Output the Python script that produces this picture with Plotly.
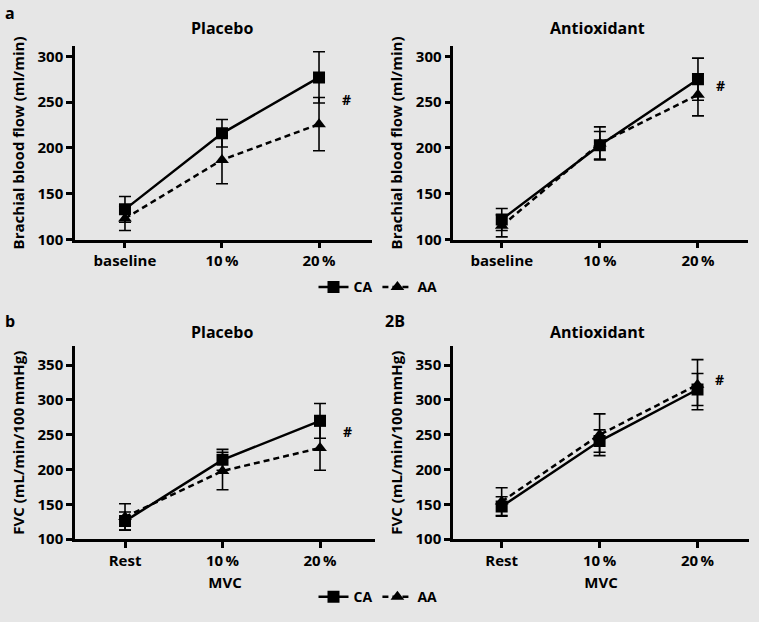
import plotly.graph_objects as go

# ---------------- data ----------------
x_idx = [0, 1, 2]
cats_top = ["baseline", "10\u2009%", "20\u2009%"]
cats_bottom = ["Rest", "10\u2009%", "20\u2009%"]

bbf_placebo_ca = [133, 216, 277]
bbf_placebo_ca_err = [14, 15, 28]
bbf_placebo_aa = [123, 187, 226]
bbf_placebo_aa_err = [13, 26, 29]

bbf_antiox_ca = [122, 203, 275]
bbf_antiox_ca_err = [12, 15, 23]
bbf_antiox_aa = [115, 205, 258]
bbf_antiox_aa_err = [12, 18, 23]

fvc_placebo_ca = [126, 214, 270]
fvc_placebo_ca_err = [13, 15, 25]
fvc_placebo_aa = [132, 198, 231]
fvc_placebo_aa_err = [19, 27, 32]

fvc_antiox_ca = [147, 241, 315]
fvc_antiox_ca_err = [14, 16, 23]
fvc_antiox_aa = [154, 250, 322]
fvc_antiox_aa_err = [20, 30, 36]

# ---------------- figure ----------------
W, H = 759, 622
FONT = "Open Sans"
BG = "#e6e6e6"
WT = "bold"

fig = go.Figure()


def add_pair(ca, ca_err, aa, aa_err, xa, ya, legend, showleg):
    fig.add_trace(go.Scatter(
        x=x_idx, y=aa, name="AA", mode="lines+markers",
        xaxis=xa, yaxis=ya, legend=legend, showlegend=showleg, legendrank=2,
        line=dict(color="black", width=2.5, dash="6px,4px"),
        marker=dict(symbol="triangle-up", size=12, color="black"),
        error_y=dict(type="data", array=aa_err, visible=True,
                     color="black", thickness=1.6, width=6),
    ))
    fig.add_trace(go.Scatter(
        x=x_idx, y=ca, name="CA", mode="lines+markers",
        xaxis=xa, yaxis=ya, legend=legend, showlegend=showleg, legendrank=1,
        line=dict(color="black", width=2.5),
        marker=dict(symbol="square", size=12, color="black"),
        error_y=dict(type="data", array=ca_err, visible=True,
                     color="black", thickness=1.6, width=6),
    ))


add_pair(bbf_placebo_ca, bbf_placebo_ca_err, bbf_placebo_aa, bbf_placebo_aa_err,
         "x", "y", "legend", True)
add_pair(bbf_antiox_ca, bbf_antiox_ca_err, bbf_antiox_aa, bbf_antiox_aa_err,
         "x2", "y2", "legend", False)
add_pair(fvc_placebo_ca, fvc_placebo_ca_err, fvc_placebo_aa, fvc_placebo_aa_err,
         "x3", "y3", "legend2", True)
add_pair(fvc_antiox_ca, fvc_antiox_ca_err, fvc_antiox_aa, fvc_antiox_aa_err,
         "x4", "y4", "legend2", False)


def px_x(p):
    return p / W


def px_y(p):
    return 1 - p / H


tickfont = dict(family=FONT, size=15, color="black", weight=WT)
titlefont = dict(family=FONT, size=15, color="black", weight=WT)


def xaxis(dom, rng, ticktext, anchor, title=None):
    d = dict(domain=dom, range=rng, anchor=anchor,
             tickmode="array", tickvals=x_idx, ticktext=ticktext,
             showline=True, linecolor="black", linewidth=2.5,
             ticks="outside", ticklen=6, tickwidth=2.5, tickcolor="black",
             showgrid=False, zeroline=False, fixedrange=True,
             tickfont=tickfont)
    if title:
        d["title"] = dict(text=title, font=titlefont, standoff=9)
    return d


def yaxis(dom, rng, dtick, anchor, title):
    return dict(domain=dom, range=rng, anchor=anchor, dtick=dtick, tick0=0,
                showline=True, linecolor="black", linewidth=2.5,
                ticks="outside", ticklen=6, tickwidth=2.5, tickcolor="black",
                showgrid=False, zeroline=False, fixedrange=True,
                tickfont=tickfont,
                title=dict(text=title, font=titlefont, standoff=10))


top_dom = [px_y(242.5), px_y(46)]
bot_dom = [px_y(547), px_y(351)]

legfont = dict(family=FONT, size=14, color="black", weight=WT)

fig.update_layout(
    width=W, height=H,
    margin=dict(l=0, r=0, t=0, b=0),
    paper_bgcolor=BG, plot_bgcolor=BG,
    font=dict(family=FONT, color="black"),
    xaxis=xaxis([px_x(75), px_x(371.7)], [-0.515, 2.543], cats_top, "y"),
    yaxis=yaxis(top_dom, [100, 311], 50, "x", "Brachial blood flow (ml/min)"),
    xaxis2=xaxis([px_x(453.3), px_x(748)], [-0.494, 2.51], cats_top, "y2"),
    yaxis2=yaxis(top_dom, [100, 311], 50, "x2", "Brachial blood flow (ml/min)"),
    xaxis3=xaxis([px_x(75), px_x(375)], [-0.513, 2.564], cats_bottom, "y3", "MVC"),
    yaxis3=yaxis(bot_dom, [100, 377], 50, "x3", "FVC (mL/min/100\u2009mmHg)"),
    xaxis4=xaxis([px_x(453), px_x(749)], [-0.497, 2.526], cats_bottom, "y4", "MVC"),
    yaxis4=yaxis(bot_dom, [100, 377], 50, "x4", "FVC (mL/min/100\u2009mmHg)"),
    legend=dict(orientation="h", x=px_x(378), xanchor="center",
                y=px_y(291), yanchor="middle", bgcolor="rgba(0,0,0,0)",
                font=legfont, itemwidth=30, traceorder="normal"),
    legend2=dict(orientation="h", x=px_x(378), xanchor="center",
                 y=px_y(606), yanchor="middle", bgcolor="rgba(0,0,0,0)",
                 font=legfont, itemwidth=30, traceorder="normal"),
)

ann_font = dict(family=FONT, size=16, color="black", weight=WT)
hash_font = dict(family=FONT, size=14, color="black", weight=WT)
annotations = [
    dict(text="Placebo", x=px_x(222), y=px_y(27), xref="paper", yref="paper",
         showarrow=False, font=ann_font, xanchor="center", yanchor="middle"),
    dict(text="Antioxidant", x=px_x(597), y=px_y(27), xref="paper", yref="paper",
         showarrow=False, font=ann_font, xanchor="center", yanchor="middle"),
    dict(text="Placebo", x=px_x(222), y=px_y(336), xref="paper", yref="paper",
         showarrow=False, font=ann_font, xanchor="center", yanchor="middle"),
    dict(text="Antioxidant", x=px_x(597), y=px_y(336), xref="paper", yref="paper",
         showarrow=False, font=ann_font, xanchor="center", yanchor="middle"),
    dict(text="a", x=px_x(3), y=px_y(12), xref="paper", yref="paper",
         showarrow=False, font=ann_font, xanchor="left", yanchor="middle"),
    dict(text="b", x=px_x(3), y=px_y(325), xref="paper", yref="paper",
         showarrow=False, font=ann_font, xanchor="left", yanchor="middle"),
    dict(text="2B", x=px_x(383), y=px_y(325), xref="paper", yref="paper",
         showarrow=False, font=ann_font, xanchor="left", yanchor="middle"),
    # significance markers placed in data coordinates
    dict(text="#", x=2.28, y=253, xref="x", yref="y", showarrow=False, font=hash_font),
    dict(text="#", x=2.23, y=268, xref="x2", yref="y2", showarrow=False, font=hash_font),
    dict(text="#", x=2.28, y=255, xref="x3", yref="y3", showarrow=False, font=hash_font),
    dict(text="#", x=2.22, y=329, xref="x4", yref="y4", showarrow=False, font=hash_font),
]
fig.update_layout(annotations=annotations)

fig.write_html("out.html", config={"displayModeBar": False},
               post_script="document.body.style.margin='0';")
